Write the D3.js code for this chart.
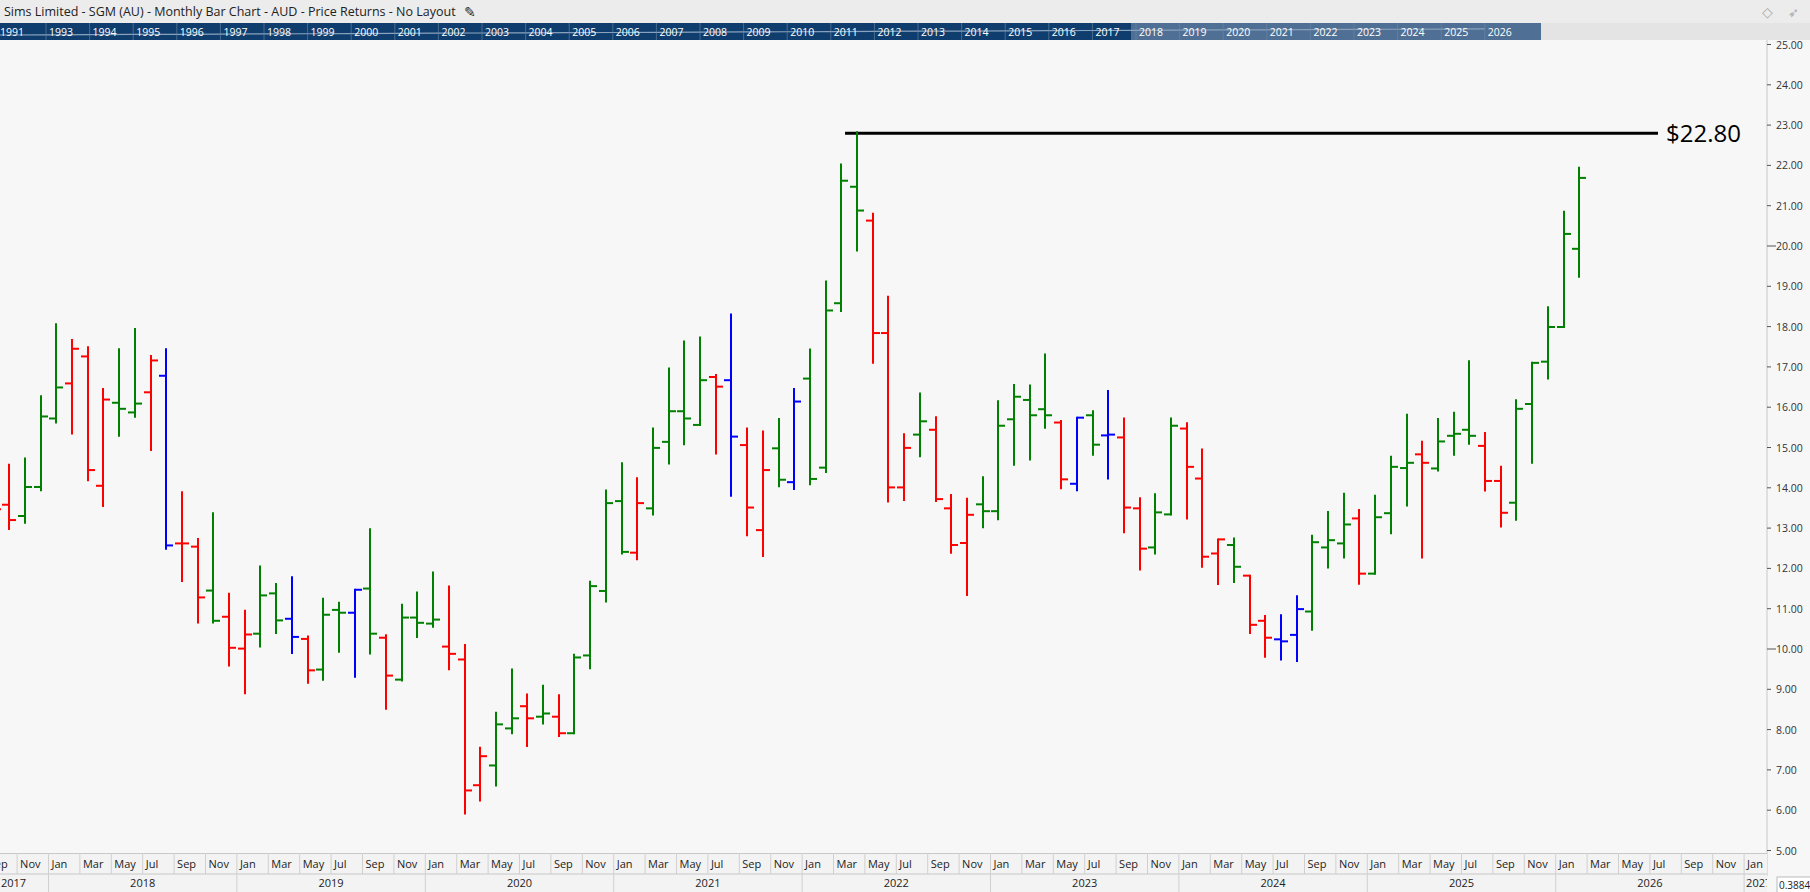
<!DOCTYPE html>
<html><head><meta charset="utf-8">
<script src="https://cdn.jsdelivr.net/npm/d3@7"></script>
<style>body{margin:0;background:#f7f7f7;font-family:"Open Sans",sans-serif}</style>
</head><body><svg id="c" width="1810" height="892"></svg>
<script>
const months = ["2017-09","2017-10","2017-11","2017-12","2018-01","2018-02","2018-03","2018-04","2018-05","2018-06","2018-07","2018-08","2018-09","2018-10","2018-11","2018-12",
"2019-01","2019-02","2019-03","2019-04","2019-05","2019-06","2019-07","2019-08","2019-09","2019-10","2019-11","2019-12",
"2020-01","2020-02","2020-03","2020-04","2020-05","2020-06","2020-07","2020-08","2020-09","2020-10","2020-11","2020-12",
"2021-01","2021-02","2021-03","2021-04","2021-05","2021-06","2021-07","2021-08","2021-09","2021-10","2021-11","2021-12",
"2022-01","2022-02","2022-03","2022-04","2022-05","2022-06","2022-07","2022-08","2022-09","2022-10","2022-11","2022-12",
"2023-01","2023-02","2023-03","2023-04","2023-05","2023-06","2023-07","2023-08","2023-09","2023-10","2023-11","2023-12",
"2024-01","2024-02","2024-03","2024-04","2024-05","2024-06","2024-07","2024-08","2024-09","2024-10","2024-11","2024-12",
"2025-01","2025-02","2025-03","2025-04","2025-05","2025-06","2025-07","2025-08","2025-09","2025-10","2025-11","2025-12",
"2026-01","2026-02"];
const open = [13.5,13.58,13.30,14.02,15.72,16.59,17.26,14.05,16.11,15.87,16.37,16.78,12.62,12.54,11.45,10.80,
10.01,10.38,11.38,10.75,10.25,9.49,10.97,10.90,11.50,10.28,9.24,10.78,
10.63,10.06,9.74,6.62,7.11,8.03,8.58,8.32,8.32,7.91,9.84,11.44,
13.67,12.39,13.49,15.14,15.90,15.56,16.75,16.67,15.06,12.95,14.98,14.14,
16.71,14.50,18.58,21.47,20.63,17.84,14.01,15.32,15.44,13.49,12.63,13.59,
13.42,15.70,16.18,15.95,15.62,14.10,15.80,15.30,15.25,13.49,12.52,13.34,
15.47,14.23,12.37,12.58,11.82,10.70,10.24,10.35,10.93,12.52,12.62,13.24,
11.87,13.37,14.49,14.83,14.48,15.29,15.44,15.04,14.17,13.63,16.08,17.13,
17.99,19.93];
const high = [14.0,14.57,14.73,16.27,18.06,17.67,17.49,16.45,17.44,17.94,17.27,17.44,13.89,12.73,13.37,11.37,
10.95,12.05,11.61,11.78,10.31,11.25,11.15,11.47,12.97,10.34,11.10,11.40,
11.90,11.55,10.10,7.55,8.42,9.49,8.87,9.09,8.85,9.86,11.67,13.93,
14.61,14.24,15.47,16.96,17.63,17.73,16.80,18.30,15.47,15.40,15.71,16.45,
17.43,19.12,22.02,22.82,20.80,18.74,15.33,16.34,15.75,13.82,13.73,14.26,
16.15,16.55,16.54,17.31,15.66,15.74,15.90,16.40,15.72,13.74,13.84,15.72,
15.60,14.95,12.72,12.74,11.82,10.82,10.84,11.31,12.81,13.40,13.85,13.45,
13.80,14.77,15.81,15.14,15.71,15.86,17.14,15.36,14.52,16.17,17.10,18.48,
20.85,21.94];
const low = [13.2,12.98,13.13,13.94,15.62,15.35,14.19,13.55,15.29,15.76,14.94,12.49,11.69,10.66,10.66,9.59,
8.90,10.06,10.40,9.90,9.16,9.24,9.93,9.31,9.89,8.52,9.22,10.30,
10.55,9.50,5.92,6.24,6.61,7.91,7.59,8.15,7.84,7.91,9.52,11.18,
12.37,12.23,13.34,14.60,15.08,15.56,14.85,13.80,12.82,12.31,14.04,13.97,
14.09,14.39,18.39,19.89,17.10,13.66,13.70,14.78,13.67,12.39,11.34,13.02,
13.22,14.57,14.70,15.49,13.99,13.94,14.82,14.23,12.90,11.97,12.37,13.34,
13.24,12.04,11.61,11.66,10.40,9.81,9.74,9.70,10.48,12.02,12.27,11.62,
11.87,12.87,13.56,12.27,14.43,14.82,15.09,13.93,13.04,13.21,14.62,16.71,
17.99,19.24];
const close = [13.47,13.20,14.02,15.77,16.49,17.45,14.44,16.19,15.96,16.09,17.16,12.57,12.62,11.28,10.70,10.03,
10.36,11.33,10.71,10.30,9.47,10.85,10.90,11.47,10.38,9.34,10.78,10.65,
10.73,9.88,6.49,7.34,8.13,8.28,8.28,8.40,7.91,9.79,11.56,13.62,
12.41,13.62,14.99,15.90,15.72,16.67,16.51,15.27,13.51,14.44,14.20,16.14,
14.22,18.40,21.62,20.88,17.84,14.01,14.99,15.65,13.72,12.58,13.33,13.42,
15.54,16.26,15.80,15.80,14.21,15.74,15.07,15.32,13.51,12.49,13.39,15.54,
14.52,12.29,12.72,12.04,10.60,10.28,10.19,10.99,12.65,12.70,13.09,11.87,
13.27,14.52,14.62,14.62,15.15,15.34,15.29,14.17,13.38,15.96,17.10,17.99,
20.30,21.69];
// bar colour category per month: g = up, r = down, b = outside bar
const kind = ("rrgggrrrggrbrrgr" + "rggbrggbgrgg" + "grrrggrgrggg" + "grggggrbrrgb" +
  "ggggrrrgrrrg" + "ggggrbgbrrgg" + "rrrgrrbbgggr" + "gggrgggrrggg" + "gg").split("");
const priceTicks = [5,6,7,8,9,10,11,12,13,14,15,16,17,18,19,20,21,22,23,24,25];
const stripYears = [1991,1993,1994,1995,1996,1997,1998,1999,2000,2001,2002,2003,2004,2005,2006,2007,2008,2009,2010,2011,2012,2013,2014,2015,2016,2017,2018,2019,2020,2021,2022,2023,2024,2025,2026];
const axisYears = [2017,2018,2019,2020,2021,2022,2023,2024,2025,2026,2027];
const monthNames = ["Jan","Feb","Mar","Apr","May","Jun","Jul","Aug","Sep","Oct","Nov","Dec"];
const refLevel = 22.80;
const title = "Sims Limited - SGM (AU) - Monthly Bar Chart - AUD - Price Returns - No Layout";

const svg = d3.select("#c");
const W = 1810, plotR = 1767, plotT = 40, plotB = 853;
const idx = s => { const [y,m] = s.split("-").map(Number); return (y-2018)*12 + (m-1); };
const x = d3.scaleLinear().domain([0, 108]).range([48.5, 48.5 + 108*15.7]);
const y = d3.scaleLinear().domain([5, 25]).range([850.5, 44.5]);
const colors = {g:"#008000", r:"#ff0000", b:"#0000ff"};

svg.append("rect").attr("width",W).attr("height",892).attr("fill","#f7f7f7");
svg.append("rect").attr("width",W).attr("height",23).attr("fill","#ececec");
const tt = svg.append("text").attr("x",4).attr("y",16).attr("font-size",12.5).attr("fill","#222").text(title);
const tw = tt.node().getComputedTextLength();
svg.append("text").attr("x",4+tw+8).attr("y",17).attr("font-size",14).attr("fill","#222").text("✎");
svg.append("text").attr("x",1762).attr("y",17).attr("font-size",14).attr("fill","#aaa").text("◇");
svg.append("text").attr("x",1788).attr("y",17).attr("font-size",13).attr("fill","#aaa").text("➶");
// overview strip
const xs = d3.scaleLinear().domain([1993, 2026]).range([46, 46 + 33*43.6]);
svg.append("rect").attr("y",23).attr("width",1541).attr("height",17).attr("fill","#0f3e6e");
svg.append("rect").attr("x",1131).attr("y",23).attr("width",410).attr("height",17).attr("fill","#4f6f94");
svg.append("rect").attr("x",1541).attr("y",23).attr("width",W-1541).attr("height",17).attr("fill","#e4e4e4");
svg.append("path").attr("fill","none").attr("stroke","#8aa2bd").attr("stroke-width",1.2)
  .attr("d",d3.line()(stripYears.map((yr,i)=>[yr===1991?0:xs(yr), 35 - Math.min(8, i*0.18)])));
stripYears.forEach(yr => {
  const sx = yr===1991 ? -3 : xs(yr);
  svg.append("line").attr("x1",sx).attr("x2",sx).attr("y1",23).attr("y2",40).attr("stroke","#6d89a8").attr("stroke-width",0.6);
  svg.append("text").attr("x",sx+3).attr("y",36).attr("font-size",10.5).attr("fill","#fff").text(yr);
});
svg.append("clipPath").attr("id","pc").append("rect").attr("x",0).attr("y",plotT).attr("width",plotR).attr("height",plotB-plotT);
svg.append("clipPath").attr("id","ac").append("rect").attr("x",0).attr("y",plotB).attr("width",plotR).attr("height",892-plotB);
const g = svg.append("g").attr("clip-path","url(#pc)");
g.append("line").attr("x1",x(idx("2022-04"))+7.85-12).attr("x2",1658).attr("y1",y(refLevel)).attr("y2",y(refLevel))
  .attr("stroke","#000").attr("stroke-width",3);
svg.append("text").attr("x",1666).attr("y",y(refLevel)+8.5).attr("font-size",24).attr("fill","#000").text("$" + refLevel.toFixed(2));
months.forEach((m,i) => {
  const cx = Math.round(x(idx(m)) + 7.85);
  const c = colors[kind[i]] || "#008000";
  const bg = g.append("g").attr("stroke",c).attr("stroke-width",2);
  bg.append("line").attr("x1",cx).attr("x2",cx).attr("y1",y(high[i])-1).attr("y2",y(low[i])+1);
  bg.append("line").attr("x1",cx-7).attr("x2",cx).attr("y1",y(open[i])).attr("y2",y(open[i]));
  bg.append("line").attr("x1",cx).attr("x2",cx+7).attr("y1",y(close[i])).attr("y2",y(close[i]));
});
// right axis
svg.append("line").attr("x1",plotR).attr("x2",plotR).attr("y1",plotT).attr("y2",876).attr("stroke","#c8c8c8");
priceTicks.forEach(p => {
  const major = p % 10 === 0;
  svg.append("line").attr("x1",plotR).attr("x2",plotR+(major?9:4)).attr("y1",y(p)).attr("y2",y(p)).attr("stroke","#555");
  svg.append("text").attr("x",plotR+9).attr("y",y(p)+4).attr("font-size",10.5).attr("fill","#333").text(p.toFixed(2));
});
// bottom axis
const ax = svg.append("g").attr("clip-path","url(#ac)");
ax.append("rect").attr("x",0).attr("y",plotB).attr("width",plotR).attr("height",892-plotB).attr("fill","#f3f3f3");
ax.append("line").attr("x1",0).attr("x2",plotR).attr("y1",plotB+0.5).attr("y2",plotB+0.5).attr("stroke","#c8c8c8");
ax.append("line").attr("x1",0).attr("x2",plotR).attr("y1",874).attr("y2",874).attr("stroke","#c8c8c8");
for (let k = -4; k <= 108; k++) {
  const mo = ((k % 12) + 12) % 12;
  if (mo % 2 !== 0) continue;
  const bx = x(k);
  ax.append("line").attr("x1",bx).attr("x2",bx).attr("y1",plotB).attr("y2",874).attr("stroke","#d0d0d0");
  ax.append("text").attr("x",bx+3).attr("y",868).attr("font-size",11).attr("fill","#222").text(monthNames[mo]);
}
axisYears.forEach(yr => {
  const bx = x((yr-2018)*12), ex = x((yr-2017)*12);
  ax.append("line").attr("x1",bx).attr("x2",bx).attr("y1",874).attr("y2",892).attr("stroke","#d0d0d0");
  let cx = (Math.max(bx,0) + Math.min(ex,plotR))/2, anchor = "middle";
  if (yr===2017) { cx = 1; anchor = "start"; }
  if (yr===2027) { cx = bx + 2; anchor = "start"; }
  ax.append("text").attr("x",cx).attr("y",887).attr("text-anchor",anchor).attr("font-size",11).attr("fill","#222").text(yr);
});
svg.append("rect").attr("x",1777).attr("y",877).attr("width",34).attr("height",16).attr("fill","#fff").attr("stroke","#bbb");
svg.append("text").attr("x",1779).attr("y",889).attr("font-size",10).attr("fill","#222").text("0.3884");
</script></body></html>
